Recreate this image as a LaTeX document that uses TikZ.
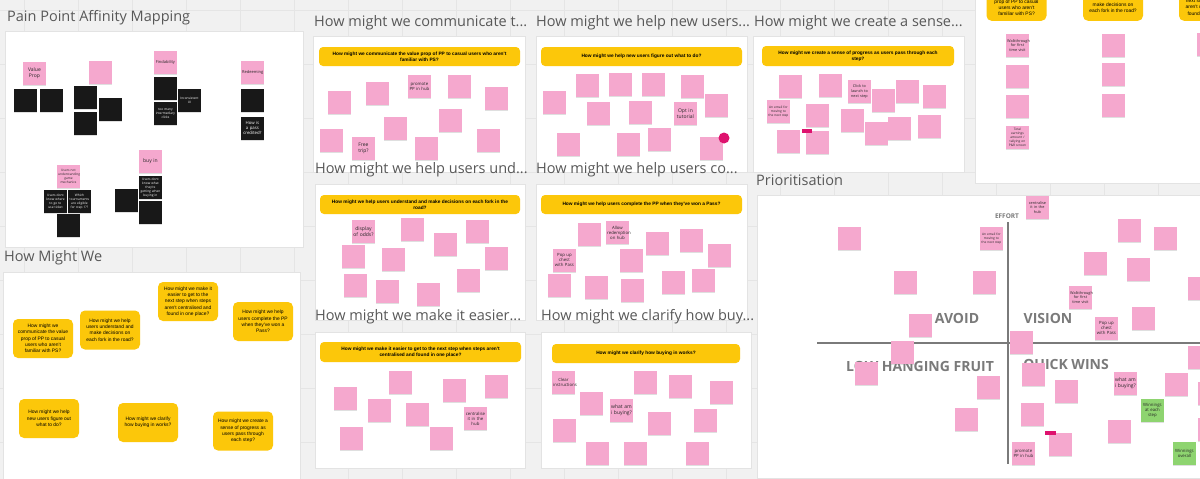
\documentclass[tikz,border=0pt]{standalone}
\usepackage{fontspec}
\setmainfont{Open Sans}
\newfontfamily\arialfont{Liberation Sans}
\usetikzlibrary{positioning,shadows}
\hyphenpenalty=10000
\exhyphenpenalty=10000

\definecolor{boardbg}{RGB}{241,241,241}
\definecolor{gridline}{RGB}{229,229,229}
\definecolor{notepink}{RGB}{245,168,206}
\definecolor{noteblack}{RGB}{24,24,24}
\definecolor{hmwyellow}{RGB}{252,199,10}
\definecolor{notegreen}{RGB}{142,212,112}
\definecolor{tagred}{RGB}{222,18,110}
\definecolor{titlegray}{RGB}{88,88,88}
\definecolor{axisgray}{RGB}{122,122,122}

\begin{document}
\begin{tikzpicture}[x=1pt, y=-1pt,
    board/.style={draw=gray!22, fill=white, line width=0.5pt},
    frametitle/.style={anchor=base west, inner sep=0, text=titlegray, font=\fontsize{14.5}{16}\selectfont},
    sticky/.style={anchor=north west, minimum width=22.5pt, minimum height=22.5pt, inner sep=0.6pt,
        text width=20.5pt, align=center, font=\fontsize{3.2}{3.9}\selectfont,
        drop shadow={shadow xshift=0.2pt, shadow yshift=-1pt, opacity=0.25}},
    pnote/.style={sticky, fill=notepink, text=black!85},
    bnote/.style={sticky, fill=noteblack, text=white},
    gnote/.style={sticky, fill=notegreen, text=black!85},
    mid/.style={font=\fontsize{4.3}{5}\selectfont},
    big/.style={inner sep=0pt, text width=22.5pt, font=\fontsize{5}{6.4}\selectfont},
    hmw/.style={fill=hmwyellow, rounded corners=5pt, minimum width=60pt, minimum height=39pt,
        align=center, inner sep=2pt, font=\arialfont\fontsize{4.9}{6.3}\selectfont},
    banner/.style={fill=hmwyellow, rounded corners=4pt, align=center, inner sep=1pt,
        font=\arialfont\bfseries\fontsize{4.8}{6}\selectfont},
    quadrant/.style={text=axisgray, inner sep=0, font=\bfseries\fontsize{14}{16}\selectfont},
    axis/.style={draw=axisgray, line width=2pt}]

\useasboundingbox (0,0) rectangle (1200,479);
\clip (0,0) rectangle (1200,479);

% board
\fill[boardbg] (0,0) rectangle (1200,479);
\foreach \gx in {24,78,...,1200} \draw[gridline] (\gx,0) -- (\gx,479);
\foreach \gy in {10,64,...,479} \draw[gridline] (0,\gy) -- (1200,\gy);

% frames
\draw[board] (5,31) rectangle (303,247);
\draw[board] (3,272) rectangle (300,490);
\draw[board] (313,36) rectangle (525,172);
\draw[board] (536,36) rectangle (747,172);
\draw[board] (753,36) rectangle (964,172);
\draw[board] (315,184) rectangle (525,320);
\draw[board] (536,184) rectangle (747,320);
\draw[board] (315,332) rectangle (525,468);
\draw[board] (541,332) rectangle (751,468);
\draw[board] (975,-10) rectangle (1215,183);
\draw[board] (757,195) rectangle (1215,478);

% frame titles
\node[frametitle] (t1) at (7,21) {Pain Point Affinity Mapping};
\node[frametitle] (t2) at (4,261) {How Might We};
\node[frametitle] (t3) at (314,26) {How might we communicate t...};
\node[frametitle] (t4) at (536,26) {How might we help new users...};
\node[frametitle] (t5) at (754,26) {How might we create a sense...};
\node[frametitle] (t6) at (315,173) {How might we help users und...};
\node[frametitle] (t7) at (536,173) {How might we help users co...};
\node[frametitle] (t8) at (315,320) {How might we make it easier...};
\node[frametitle] (t9) at (541,320) {How might we clarify how buy...};
\node[frametitle] (t10) at (756,185) {Prioritisation};

% pain point affinity mapping
\node[pnote, big] (vp) at (23,62) {Value\\Prop};
\node[pnote] (dd) at (89,61) {};
\node[pnote, font=\fontsize{4}{5}\selectfont] (fi) at (154,51) {Findability};
\node[pnote, font=\fontsize{4}{5}\selectfont] (re) at (241,61) {Redeeming};
\node[pnote] (gm) at (57,165) {Users not understanding game mechanics};
\node[pnote, big] (bi) at (139,150) {buy in};
\foreach \px/\py [count=\i] in {14/89, 40/89, 74/86, 99/98, 74/112, 154/77, 241/89, 57/214, 139/201, 115/189}
    \node[bnote] (bk\i) at (\px,\py) {};
\node[bnote] (cl) at (154,102) {too many intermediary clicks};
\node[bnote] (ui) at (178,89) {Inconsistent UI};
\node[bnote, mid] (pc) at (241,117) {How is a pass credited?};
\node[bnote] (wg) at (44,190) {Users dont know where to go to use ticket};
\node[bnote] (wt) at (68,190) {Which tournaments are eligible for step 1??};
\node[bnote] (wb) at (139,176) {Users dont know what they're getting when buying in};

% how might we
\node[hmw] (h1) at (43,338.5) {How might we\\communicate the value\\prop of PP to casual\\users who aren't\\familiar with PS?};
\node[hmw] (h2) at (110,330) {How might we help\\users understand and\\make decisions on\\each fork in the road?};
\node[hmw] (h3) at (188,301.5) {How might we make it\\easier to get to the\\next step when steps\\aren't centralised and\\found in one place?};
\node[hmw] (h4) at (263,321.5) {How might we help\\users complete the PP\\when they've won a\\Pass?};
\node[hmw] (h5) at (49,418.5) {How might we help\\new users figure out\\what to do?};
\node[hmw] (h6) at (148,422.5) {How might we clarify\\how buying in works?};
\node[hmw] (h7) at (243,431) {How might we create a\\sense of progress as\\users pass through\\each step?};

% communicate the value prop
\node[banner, minimum width=201pt, minimum height=19pt] (b1) at (419.5,56.5)
    {How might we communicate the value prop of PP to casual users who aren't\\familiar with PS?};
\foreach \px/\py [count=\i] in {328/91, 366/82, 448/75, 485/87, 384/117, 439/109, 320/129, 415/137, 477/129}
    \node[pnote] (c\i) at (\px,\py) {};
\node[pnote, mid] (cp) at (408,75) {promote PP in hub};
\node[pnote, big] (cf) at (352,137) {Free\\trip?};

% new users
\node[banner, minimum width=201pt, minimum height=19pt] (b2) at (641.5,56.5)
    {How might we help new users figure out what to do?};
\foreach \px/\py [count=\i] in {543/91, 576/74, 609/73, 642/73, 681/75, 587/102, 629/101, 705/94, 557/133, 617/133, 648/128, 700/137}
    \node[pnote] (n\i) at (\px,\py) {};
\node[pnote, big] (nt) at (674,102) {Opt in\\tutorial};
\fill[tagred] (724,138) circle (5.5);

% sense of progress
\node[banner, minimum width=192pt, minimum height=20pt] (b3) at (858,56)
    {How might we create a sense of progress as users pass through each\\step?};
\foreach \px/\py [count=\i] in {779/75, 819/74, 872/89, 896/80, 923/85, 806/104, 841/109, 865/122, 888/117, 918/115, 777/130, 806/131}
    \node[pnote] (s\i) at (\px,\py) {};
\node[pnote, font=\fontsize{3.8}{4.6}\selectfont] (sl) at (848,80) {Click to launch to next step};
\node[pnote] (se) at (767,100) {An email for moving to the next step};
\fill[tagred] (802,129) rectangle (812,133);

% understand and decide
\node[banner, minimum width=200pt, minimum height=19pt] (b4) at (420,204.5)
    {How might we help users understand and make decisions on each fork in the\\road?};
\foreach \px/\py [count=\i] in {401/218, 434/233, 466/220, 342/245, 382/248, 485/247, 344/274, 376/280, 457/269, 417/283}
    \node[pnote] (u\i) at (\px,\py) {};
\node[pnote, big] (uo) at (352,220) {display\\of odds?};

% complete the PP
\node[banner, minimum width=201pt, minimum height=19pt] (b5) at (641.5,204.5)
    {How might we help users complete the PP when they've won a Pass?};
\foreach \px/\py [count=\i] in {578/223, 646/232, 680/229, 708/244, 620/249, 548/274, 585/276, 621/279, 662/271, 692/269}
    \node[pnote] (p\i) at (\px,\py) {};
\node[pnote, mid] (pr) at (606,221) {Allow redemption on hub};
\node[pnote, mid] (pp) at (553,249) {Pop up chest with Pass};

% next step
\node[banner, minimum width=201pt, minimum height=20pt] (b6) at (420.5,352)
    {How might we make it easier to get to the next step when steps aren't\\centralised and found in one place?};
\foreach \px/\py [count=\i] in {389/371, 334/387, 368/399, 406/403, 443/379, 485/375, 340/427, 430/427}
    \node[pnote] (m\i) at (\px,\py) {};
\node[pnote, mid] (mc) at (464,407) {centralise it in the hub};

% buying in
\node[banner, minimum width=188pt, minimum height=19pt] (b7) at (646,353.5)
    {How might we clarify how buying in works?};
\foreach \px/\py [count=\i] in {580/392, 634/371, 669/375, 710/381, 553/419, 648/412, 694/409, 586/442, 624/442, 686/442}
    \node[pnote] (y\i) at (\px,\py) {};
\node[pnote, mid] (yc) at (552,371) {Clear instructions};
\node[pnote, big] (yw) at (610,399) {what am\\i buying?};

% sorted how might we
\node[hmw, anchor=south] (r1) at (1016.5,21) {How might we\\communicate the value\\prop of PP to casual\\users who aren't\\familiar with PS?};
\node[hmw, anchor=south] (r2) at (1113,21) {How might we help\\users understand and\\make decisions on\\each fork in the road?};
\node[hmw, anchor=south] (r3) at (1209,21) {How might we make it\\easier to get to the\\next step when steps\\aren't centralised and\\found in one place?};
\node[pnote, font=\fontsize{3.8}{4.6}\selectfont] (rw) at (1006,34) {Walkthrough for first time visit};
\node[pnote] (rt) at (1006,126) {Total earnings amount / tallying on P\&R screen};
\foreach \px/\py [count=\i] in {1006/65, 1006/95, 1102/34, 1102/63, 1102/94, 1197/33}
    \node[pnote] (r\i) at (\px,\py) {};

% prioritisation
\coordinate (efftop) at (1008,222);
\coordinate (effbot) at (1008,464);
\coordinate (valleft) at (817,343);
\coordinate (valright) at (1205,343);
\draw[axis] (efftop) -- (effbot);
\draw[axis] (valleft) -- (valright);
\node[text=axisgray, inner sep=0, font=\bfseries\fontsize{6.5}{7}\selectfont] (eff) at (1007,216) {EFFORT};
\node[quadrant] (qa) at (957,318) {AVOID};
\node[quadrant] (qv) at (1048,318) {VISION};
\node[quadrant] (ql) at (920,366) {LOW HANGING FRUIT};
\node[quadrant] (qq) at (1066,366) {QUICK WINS};
\foreach \px/\py [count=\i] in {838/227, 1118/219, 1154/227, 1084/252, 1127/258, 1188/277, 894/271, 973/271,
        1132/307, 909/314, 1010/331, 891/341, 1188/346, 855/362, 1022/363, 977/376, 1055/380, 1165/373,
        1198/382, 955/408, 1021/403, 1198/418, 1108/420, 1049/433}
    \node[pnote] (q\i) at (\px,\py) {};
\node[pnote, font=\fontsize{3.8}{4.6}\selectfont] (qc) at (1026,196) {centralise it in the hub};
\node[pnote] (qe) at (980,227) {An email for moving to the next step};
\node[pnote, font=\fontsize{3.8}{4.6}\selectfont] (qw) at (1069,286) {Walkthrough for first time visit};
\node[pnote, mid] (qp) at (1095,317) {Pop up chest with Pass};
\node[pnote, big] (qb) at (1114,372) {what am\\i buying?};
\node[gnote, mid] (qs) at (1141,399) {Winnings at each step};
\node[pnote, mid] (qh) at (1012,442) {promote PP in hub};
\node[gnote, mid] (qo) at (1173,442) {Winnings overall};
\fill[tagred] (1045,431) rectangle (1056,435);

\end{tikzpicture}
\end{document}
